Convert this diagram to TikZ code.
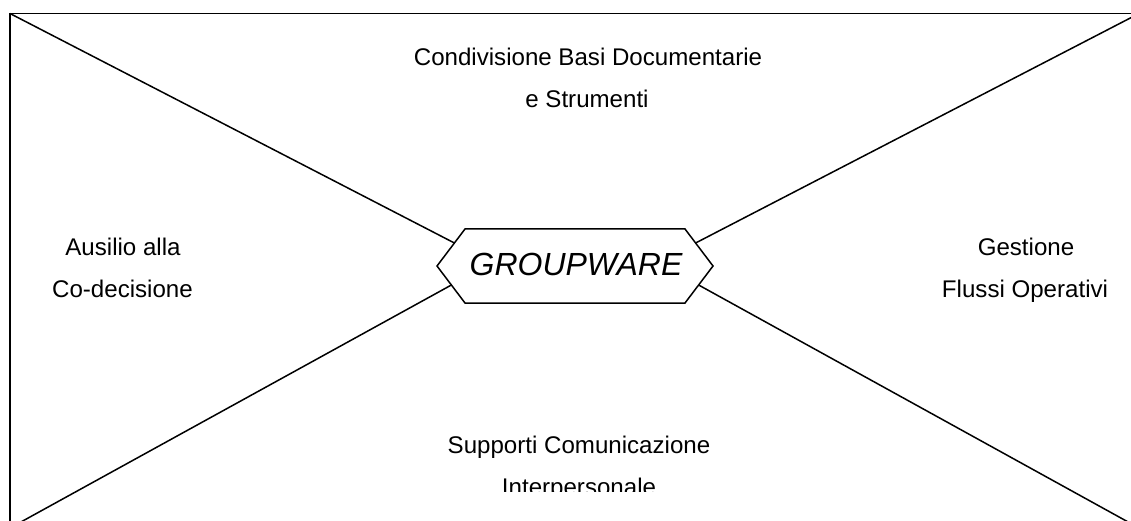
\documentclass[tikz,border=0pt]{standalone}
\usepackage{fontspec}
\setmainfont{Liberation Sans}
\begin{document}
\begin{tikzpicture}[x=1pt,y=-1pt,
  frame/.style={line width=1.6pt},
  link/.style={line width=1.5pt},
  hexa/.style={line width=1.5pt, fill=white},
  lbl/.style={anchor=base, inner sep=0pt, font=\fontsize{24.1}{28}\selectfont},
  title/.style={anchor=base, inner sep=0pt, font=\fontsize{32}{38}\selectfont\itshape}]
\useasboundingbox (0,0) rectangle (1131,521);
\clip (0,0) rectangle (1131,521);
% frame corners
\coordinate (tl) at (10,13.5);
\coordinate (tr) at (1139,13.5);
\coordinate (bl) at (10,528);
\coordinate (br) at (1139,528);
\draw[frame] (tl) -- (tr) -- (br) -- (bl) -- cycle;
% hexagon vertices
\coordinate (hl) at (437,266);
\coordinate (htl) at (465,229);
\coordinate (htr) at (685,229);
\coordinate (hr) at (713,266);
\coordinate (hbr) at (685,303);
\coordinate (hbl) at (465,303);
% connection points on the hexagon
\coordinate (cul) at (454.4,243);
\coordinate (cur) at (695.6,243);
\coordinate (cll) at (451.4,285);
\coordinate (clr) at (698.6,285);
\draw[link] (tl) -- (cul);
\draw[link] (tr) -- (cur);
\draw[link] (bl) -- (cll);
\draw[link] (br) -- (clr);
\draw[hexa] (hl) -- (htl) -- (htr) -- (hr) -- (hbr) -- (hbl) -- cycle;
\node[title] (gw) at (576,275) {GROUPWARE};
% labels
\node[lbl] (top1) at (588,66) {Condivisione Basi Documentarie};
\node[lbl] (top2) at (587,108) {e Strumenti};
\node[lbl] (lft1) at (123,255) {Ausilio alla};
\node[lbl] (lft2) at (122.5,297) {Co-decisione};
\node[lbl] (rgt1) at (1026,255) {Gestione};
\node[lbl] (rgt2) at (1025,297) {Flussi Operativi};
\node[lbl] (bot1) at (579,453) {Supporti Comunicazione};
\begin{scope}
\clip (400,470) rectangle (760,491.7);
\node[lbl] (bot2) at (579,495) {Interpersonale};
\end{scope}
\end{tikzpicture}
\end{document}
